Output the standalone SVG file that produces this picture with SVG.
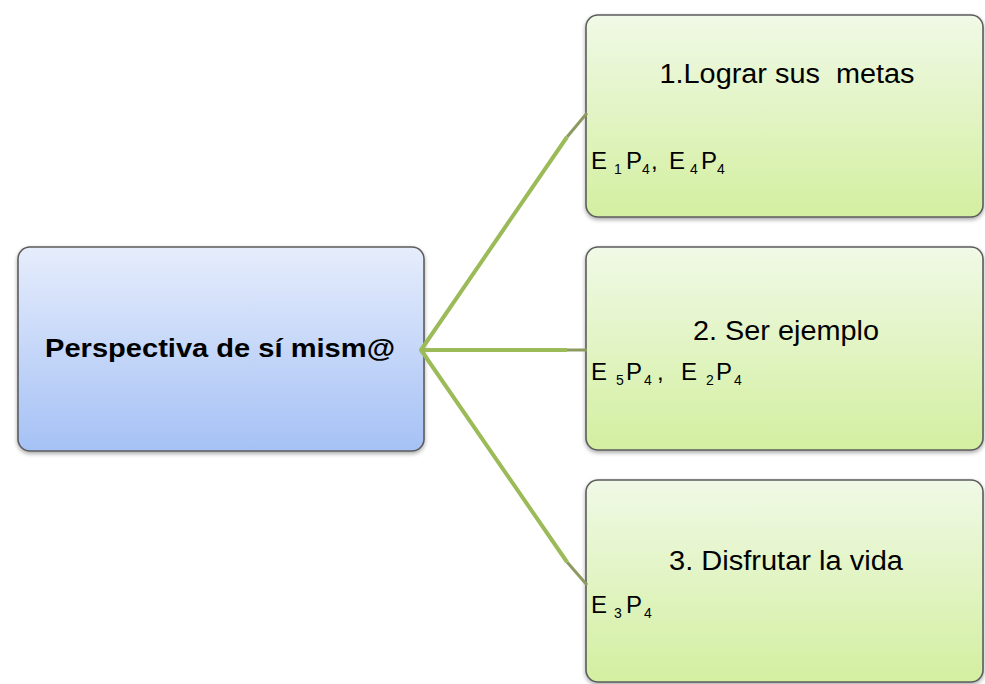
<svg xmlns="http://www.w3.org/2000/svg" width="985" height="684" viewBox="0 0 985 684">
  <defs>
    <linearGradient id="gBlue" x1="0" y1="0" x2="0" y2="1">
      <stop offset="0" stop-color="#e6edfc"/>
      <stop offset="1" stop-color="#a5c1f5"/>
    </linearGradient>
    <linearGradient id="gGreen" x1="0" y1="0" x2="0" y2="1">
      <stop offset="0" stop-color="#f0f9e6"/>
      <stop offset="1" stop-color="#d3efa0"/>
    </linearGradient>
    <filter id="sh" x="-5%" y="-5%" width="110%" height="115%">
      <feGaussianBlur in="SourceAlpha" stdDeviation="2"/>
      <feOffset dx="0" dy="2" result="b"/>
      <feComponentTransfer><feFuncA type="linear" slope="0.35"/></feComponentTransfer>
      <feMerge><feMergeNode/><feMergeNode in="SourceGraphic"/></feMerge>
    </filter>
  </defs>
  <style>
    .box { stroke: #5c5c5c; stroke-width: 1.6; filter: url(#sh); }
    .blue { fill: url(#gBlue); }
    .green { fill: url(#gGreen); }
    text { font-family: "Liberation Sans", Arial, sans-serif; fill: #000; white-space: pre; }
    .main { font-size: 26px; font-weight: bold; }
    .title { font-size: 27px; }
    .code { font-size: 24px; }
    .sub { font-size: 14px; }
    .conn { stroke: #9bbb59; stroke-width: 4; fill: none; stroke-linecap: butt; stroke-linejoin: round; }
    .stub { stroke: #8c9a62; stroke-width: 3; fill: none; }
  </style>
  <rect width="985" height="684" fill="#ffffff"/>

  <g id="node-root">
    <rect class="box blue" x="18" y="247" width="406" height="204" rx="12" ry="12"/>
    <text class="main" x="220" y="357" text-anchor="middle" textLength="350" lengthAdjust="spacingAndGlyphs">Perspectiva de sí mism@</text>
  </g>

  <g id="node-1">
    <rect class="box green" x="586" y="15" width="397" height="202" rx="12" ry="12"/>
    <text class="title" x="787" y="83" text-anchor="middle" textLength="255" lengthAdjust="spacingAndGlyphs">1.Lograr sus  metas</text>
    <text class="code" y="169"><tspan x="591">E </tspan><tspan class="sub" x="614" y="174">1</tspan><tspan x="626" y="169">P</tspan><tspan class="sub" x="642" y="174">4</tspan><tspan x="651" y="169">, </tspan><tspan x="669">E </tspan><tspan class="sub" x="690" y="174">4</tspan><tspan x="701" y="169">P</tspan><tspan class="sub" x="717" y="174">4</tspan></text>
  </g>

  <g id="node-2">
    <rect class="box green" x="586" y="247" width="397" height="203" rx="12" ry="12"/>
    <text class="title" x="786" y="340" text-anchor="middle" textLength="186" lengthAdjust="spacingAndGlyphs">2. Ser ejemplo</text>
    <text class="code" y="380"><tspan x="591">E </tspan><tspan class="sub" x="616" y="385">5</tspan><tspan x="626" y="380">P</tspan><tspan class="sub" x="644" y="385">4</tspan><tspan x="657" y="380">,  </tspan><tspan x="681">E </tspan><tspan class="sub" x="706" y="385">2</tspan><tspan x="716" y="380">P</tspan><tspan class="sub" x="734" y="385">4</tspan></text>
  </g>

  <g id="node-3">
    <rect class="box green" x="586" y="480" width="397" height="202" rx="12" ry="12"/>
    <text class="title" x="786" y="570" text-anchor="middle" textLength="234" lengthAdjust="spacingAndGlyphs">3. Disfrutar la vida</text>
    <text class="code" y="613"><tspan x="591">E </tspan><tspan class="sub" x="614" y="618">3</tspan><tspan x="626" y="613">P</tspan><tspan class="sub" x="644" y="618">4</tspan></text>
  </g>

  <g id="connectors">
    <path class="stub" d="M567,137 L587,113"/>
    <path class="stub" d="M567,350 L587,350"/>
    <path class="stub" d="M567,562 L587,585"/>
    <path class="conn" d="M567,137 L421,350 L567,562"/>
    <path class="conn" d="M421,350 L567,350"/>
  </g>
</svg>
